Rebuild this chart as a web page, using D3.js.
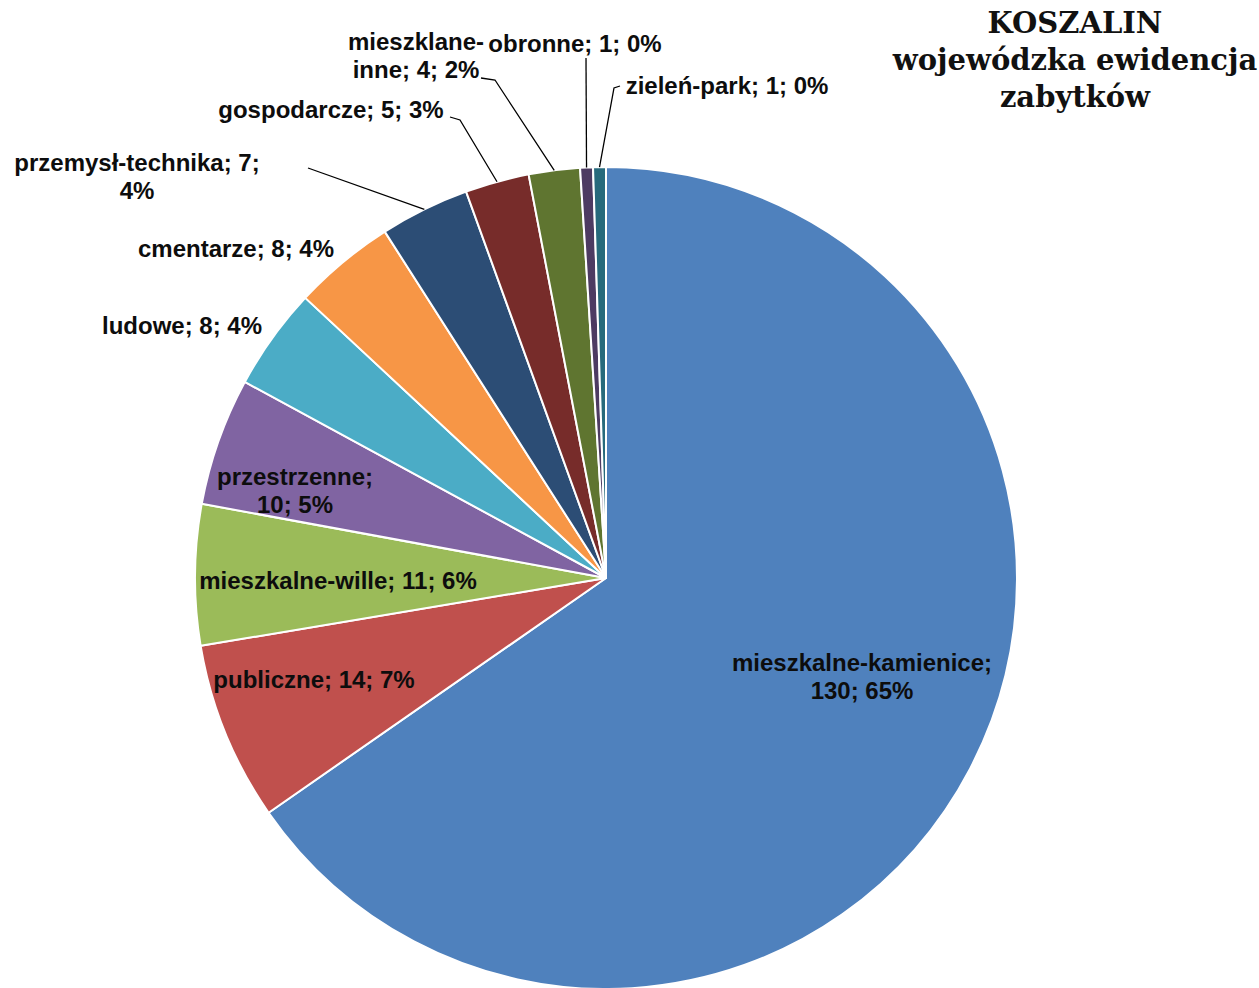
<!DOCTYPE html>
<html><head><meta charset="utf-8">
<script src="https://cdn.jsdelivr.net/npm/d3@7"></script>
<style>body{margin:0;background:#fff}svg{display:block}</style>
</head><body>
<svg id="c" width="1259" height="988"></svg>
<script>
const categories = ["mieszkalne-kamienice","publiczne","mieszkalne-wille","przestrzenne","ludowe","cmentarze","przemysł-technika","gospodarcze","mieszklane-inne","obronne","zieleń-park"];
const values = [130,14,11,10,8,8,7,5,4,1,1];
const percents = ["65%","7%","6%","5%","4%","4%","4%","3%","2%","0%","0%"];
const colors = ["#4F81BD","#C0504D","#9BBB59","#8064A2","#4BACC6","#F79646","#2C4D75","#772C2A","#5F7530","#4D3B62","#276A7C"];
const titleLines = ["KOSZALIN","wojewódzka ewidencja","zabytków"];

// label layout: text lines, anchor point, optional leader elbow
const labelLayout = [
  {lines:["mieszkalne-kamienice;","130; 65%"], x:862, y:663},
  {lines:["publiczne; 14; 7%"], x:314, y:680},
  {lines:["mieszkalne-wille; 11; 6%"], x:338, y:581},
  {lines:["przestrzenne;","10; 5%"], x:295, y:477},
  {lines:["ludowe; 8; 4%"], x:182, y:326},
  {lines:["cmentarze; 8; 4%"], x:236, y:249},
  {lines:["przemysł-technika; 7;","4%"], x:137, y:163, leader:[[308,168]]},
  {lines:["gospodarcze; 5; 3%"], x:331, y:110, leader:[[460,120],[450,117]]},
  {lines:["mieszklane-","inne; 4; 2%"], x:416, y:42, leader:[[495,80],[481,78]]},
  {lines:["obronne; 1; 0%"], x:575, y:44, leader:[[586,58]]},
  {lines:["zieleń-park; 1; 0%"], x:727, y:86, leader:[[614,88],[620,86]]}
];

const svg = d3.select("#c");
const cx = 606, cy = 578, R = 411;
const g = svg.append("g").attr("transform",`translate(${cx},${cy})`);
const pie = d3.pie().sort(null).value(d=>d)(values);
const arc = d3.arc().innerRadius(0).outerRadius(R);
g.selectAll("path").data(pie).join("path")
  .attr("d",arc).attr("fill",(d,i)=>colors[i])
  .attr("stroke","#fff").attr("stroke-width",2).attr("stroke-linejoin","round");

const lh = 28;
labelLayout.forEach((L,i)=>{
  const t = svg.append("text")
    .attr("font-family","'Liberation Sans',Arial,sans-serif")
    .attr("font-weight","bold").attr("font-size",24)
    .attr("fill","#0d0d0d").attr("text-anchor","middle");
  L.lines.forEach((s,k)=>{
    t.append("tspan").attr("x",L.x).attr("y",L.y+k*lh).attr("dy","0.35em").text(s);
  });
  if(L.leader){
    const a = (pie[i].startAngle+pie[i].endAngle)/2;
    const p0 = [cx+Math.sin(a)*R, cy-Math.cos(a)*R];
    const pts = [p0, ...L.leader];
    svg.append("path").attr("d",d3.line()(pts)).attr("fill","none")
      .attr("stroke","#000").attr("stroke-width",1.3);
  }
});

const tt = svg.append("text").attr("font-family","'DejaVu Serif',serif")
  .attr("font-weight","bold").attr("font-size",29).attr("fill","#111").attr("text-anchor","middle");
titleLines.forEach((s,k)=>{
  tt.append("tspan").attr("x",1075).attr("y",23+k*37).attr("dy","0.35em").text(s);
});
</script>
</body></html>
